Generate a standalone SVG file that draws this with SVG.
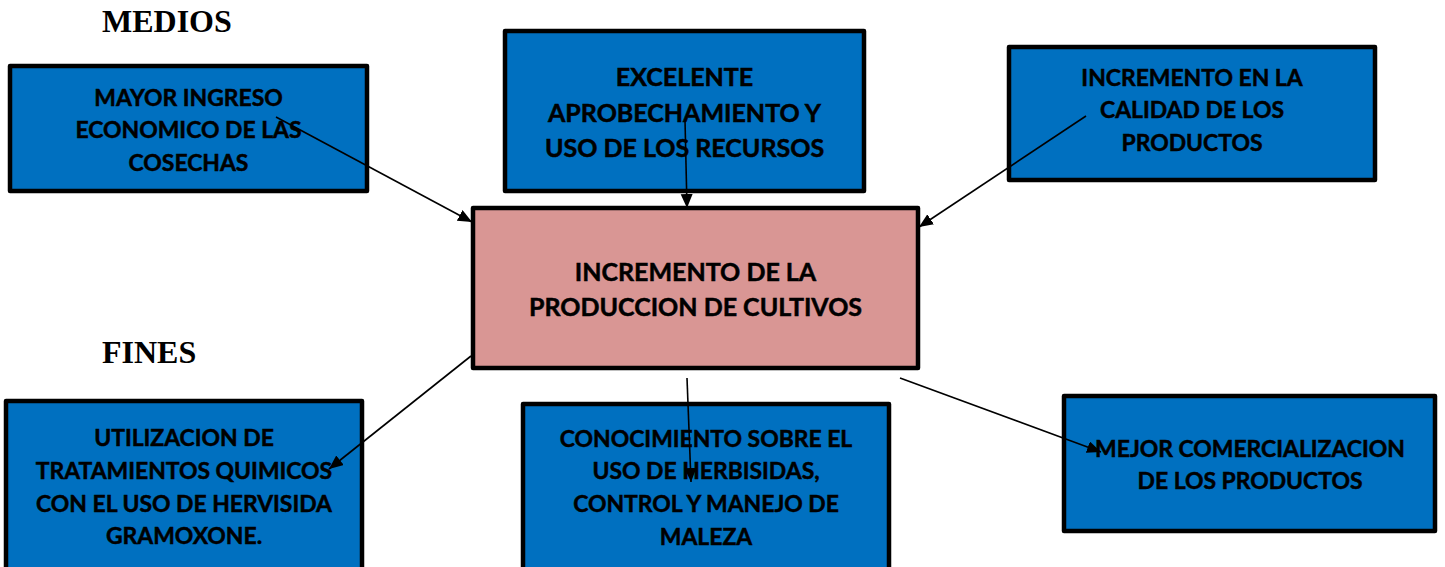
<svg xmlns="http://www.w3.org/2000/svg" width="1445" height="567" viewBox="0 0 1445 567">
<style>
.box{fill:#0070C0;stroke:#000;stroke-width:4.5;stroke-linejoin:round}
.main{fill:#D99694;stroke:#000;stroke-width:4.5;stroke-linejoin:round}
.t{font-family:Lato,"Open Sans","Liberation Sans",sans-serif;font-weight:bold;font-size:22.9px;fill:#000;stroke:#000;stroke-width:0.5;text-anchor:middle}
.big{font-size:25px}
.h{font-family:"Liberation Serif","Times New Roman",serif;font-weight:bold;font-size:32px;fill:#000}
.c{stroke:#000;stroke-width:1.6;fill:none;marker-end:url(#ah)}
</style>
<defs>
<marker id="ah" markerUnits="userSpaceOnUse" markerWidth="16" markerHeight="14" refX="14" refY="6" orient="auto">
<path d="M0,0 L14,6 L0,12 Z" fill="#000"/>
</marker>
</defs>
<text class="h" x="102" y="32">MEDIOS</text>
<text class="h" x="102" y="363">FINES</text>
<g id="n1">
<rect class="box" x="10" y="66" width="357" height="125"/>
<text class="t" x="188.5" y="106">MAYOR INGRESO</text>
<text class="t" x="188.5" y="138">ECONOMICO DE LAS</text>
<text class="t" x="188.5" y="171">COSECHAS</text>
</g>
<g id="n2">
<rect class="box" x="505" y="31" width="359" height="160"/>
<text class="t big" x="684.5" y="86">EXCELENTE</text>
<text class="t big" x="684.5" y="122">APROBECHAMIENTO Y</text>
<text class="t big" x="684.5" y="157">USO DE LOS RECURSOS</text>
</g>
<g id="n3">
<rect class="box" x="1009" y="47" width="366" height="133"/>
<text class="t" x="1192" y="86">INCREMENTO EN LA</text>
<text class="t" x="1192" y="118">CALIDAD DE LOS</text>
<text class="t" x="1192" y="151">PRODUCTOS</text>
</g>
<g id="center">
<rect class="main" x="473" y="208" width="445" height="160"/>
<text class="t big" x="695.5" y="281">INCREMENTO DE LA</text>
<text class="t big" x="695.5" y="316">PRODUCCION DE CULTIVOS</text>
</g>
<g id="n4">
<rect class="box" x="6" y="401" width="356" height="180"/>
<text class="t" x="184" y="446">UTILIZACION DE</text>
<text class="t" x="184" y="479">TRATAMIENTOS QUIMICOS</text>
<text class="t" x="184" y="512">CON EL USO DE HERVISIDA</text>
<text class="t" x="184" y="544">GRAMOXONE.</text>
</g>
<g id="n5">
<rect class="box" x="523" y="404" width="366" height="180"/>
<text class="t" x="706" y="447">CONOCIMIENTO SOBRE EL</text>
<text class="t" x="706" y="479">USO DE HERBISIDAS,</text>
<text class="t" x="706" y="512">CONTROL Y MANEJO DE</text>
<text class="t" x="706" y="545">MALEZA</text>
</g>
<g id="n6">
<rect class="box" x="1064" y="396" width="371" height="135"/>
<text class="t" x="1250" y="457">MEJOR COMERCIALIZACION</text>
<text class="t" x="1250" y="489">DE LOS PRODUCTOS</text>
</g>
<g id="connectors">
<line class="c" x1="276" y1="117" x2="472" y2="222"/>
<line class="c" x1="685" y1="120" x2="687" y2="208"/>
<line class="c" x1="1086" y1="116" x2="919" y2="227"/>
<line class="c" x1="471" y1="356" x2="329" y2="469"/>
<line class="c" x1="687" y1="378" x2="691" y2="482"/>
<line class="c" x1="900" y1="378" x2="1101" y2="452"/>
</g>
</svg>
